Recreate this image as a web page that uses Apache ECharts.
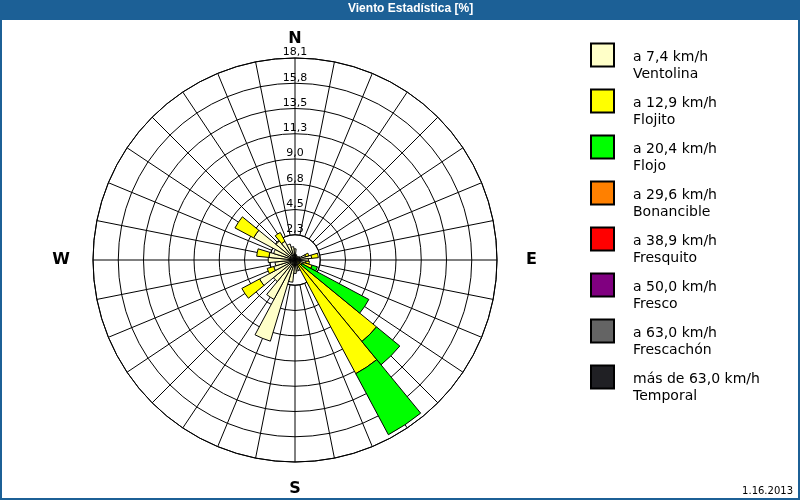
<!DOCTYPE html>
<html><head><meta charset="utf-8">
<script src="https://cdn.jsdelivr.net/npm/echarts@6/dist/echarts.min.js"></script>
<style>html,body{margin:0;padding:0;background:#fff}#c{width:800px;height:500px}</style>
</head><body><div id="c"></div>
<script>
// 32 wind directions, clockwise from North
const directions = ['N','NbE','NNE','NEbN','NE','NEbE','ENE','EbN','E','EbS','ESE','SEbE','SE','SEbS','SSE','SbE',
                    'S','SbW','SSW','SWbS','SW','SWbW','WSW','WbS','W','WbN','WNW','NWbW','NW','NWbN','NNW','NbW'];
// percentages per speed class
const ventolina  = [1.0,0.5,0.4,0.4,0.4,0.5,1.0,1.5,1.2,1.0,0.8,0.3,0.5,0.5,1.0,1.0,1.2,2.0,7.6,4.0,2.5,3.6,2.0,1.8,2.4,2.35,2.0,4.2,2.2,1.9,1.5,1.2];
const flojito    = [0,0,0,0,0,0,0.3,0.6,0,0.3,0.8,0.4,8.95,11.05,0,0,0,0,0,0,0,1.8,0.6,0,0,1.1,0,1.9,0,0.9,0,0];
const flojo      = [0,0,0,0,0,0,0,0,0,0,0.5,6.8,2.7,6.2,0,0,0,0,0,0,0,0,0,0,0,0,0,0,0,0,0,0];
const bonancible = [0,0,0,0,0,0,0,0,0,0,0,0,0,0,0,0,0,0,0,0,0,0,0,0,0,0,0,0,0,0,0,0];
const fresquito  = [0,0,0,0,0,0,0,0,0,0,0,0,0,0,0,0,0,0,0,0,0,0,0,0,0,0,0,0,0,0,0,0];
const fresco     = [0,0,0,0,0,0,0,0,0,0,0,0,0,0,0,0,0,0,0,0,0,0,0,0,0,0,0,0,0,0,0,0];
const frescachon = [0,0,0,0,0,0,0,0,0,0,0,0,0,0,0,0,0,0,0,0,0,0,0,0,0,0,0,0,0,0,0,0];
const temporal   = [0,0,0,0,0,0,0,0,0,0,0,0,0,0,0,0,0,0,0,0,0,0,0,0,0,0,0,0,0,0,0,0];
const seriesNames = ['a 7,4 km/h\nVentolina','a 12,9 km/h\nFlojito','a 20,4 km/h\nFlojo','a 29,6 km/h\nBonancible',
                     'a 38,9 km/h\nFresquito','a 50,0 km/h\nFresco','a 63,0 km/h\nFrescachón','más de 63,0 km/h\nTemporal'];
const ringLabels = ['2,3','4,5','6,8','9,0','11,3','13,5','15,8','18,1'];
const compassAngles = [0,90,180,270];
const compassNames = ['N','E','S','W'];
const compassStyles = ['n','e','s','w'];
const radiusMax = 18.1;

const seriesValues = [ventolina,flojito,flojo,bonancible,fresquito,fresco,frescachon,temporal];
const colors = ['#ffffc8','#ffff00','#00ff00','#ff8000','#ff0000','#800080','#646464','#202024'];

const compassFont = {color:'#000', fontSize:16, fontWeight:'bold', fontFamily:'DejaVu Sans'};
const legendFont = {fontFamily:'DejaVu Sans', fontSize:14, lineHeight:17, color:'#000'};

const chart = echarts.init(document.getElementById('c'), null, {renderer:'canvas'});
const option = {
  backgroundColor:'#ffffff',
  animation:false,
  title:[
    {text:'Viento Estadística [%]', left:348, top:3, padding:0,
     textStyle:{color:'#ffffff', fontSize:12, fontWeight:'bold', fontFamily:'Liberation Sans'}},
    {text:'1.16.2013', right:7, bottom:4, padding:0,
     textStyle:{color:'#000', fontSize:10, fontWeight:'normal', fontFamily:'DejaVu Sans'}}
  ],
  graphic:[
    {type:'rect', z:-10, shape:{x:0,y:0,width:800,height:20}, style:{fill:'#1c6096'}},
    {type:'rect', z:-10, shape:{x:1,y:1,width:798,height:498}, style:{fill:null, stroke:'#1c6096', lineWidth:2}}
  ],
  polar:[
    {center:[295,260], radius:[25.25,202]},
    {center:[295,260], radius:[0,202]}
  ],
  angleAxis:[
    {polarIndex:0, type:'value', min:0, max:360, interval:11.25, startAngle:90, clockwise:true,
     axisLine:{show:true, lineStyle:{color:'#000', width:1}},
     axisTick:{show:false},
     splitLine:{show:true, lineStyle:{color:'#000', width:1}},
     axisLabel:{show:true, margin:11,
       rich:{
         n:Object.assign({}, compassFont),
         e:Object.assign({padding:[0,0,0,18]}, compassFont),
         s:Object.assign({padding:[8,0,0,0]}, compassFont),
         w:Object.assign({padding:[0,12,0,0]}, compassFont)
       },
       formatter:function(v){const i=compassAngles.indexOf(v); return i>=0?('{'+compassStyles[i]+'|'+compassNames[i]+'}'):'';}}},
    {polarIndex:1, type:'category', data:directions, startAngle:95.625, clockwise:true, boundaryGap:true,
     axisLine:{show:false}, axisTick:{show:false}, axisLabel:{show:false}, splitLine:{show:false}}
  ],
  radiusAxis:[
    {polarIndex:0, type:'value', min:1, max:8, interval:1,
     axisLine:{show:false}, axisTick:{show:false},
     splitLine:{show:true, lineStyle:{color:'#000', width:1}},
     axisLabel:{show:true, margin:0, align:'center', verticalAlign:'bottom', color:'#000', fontSize:11, fontFamily:'DejaVu Sans',
       formatter:function(v){return ringLabels[Math.round(v)-1]||'';}}},
    {polarIndex:1, type:'value', min:0, max:radiusMax,
     axisLine:{show:false}, axisTick:{show:false}, splitLine:{show:false}, axisLabel:{show:false}}
  ],
  legend:{orient:'vertical', left:590, top:27, padding:0, itemWidth:23, itemHeight:23, itemGap:-10,
    icon:'rect', selectedMode:false,
    textStyle:Object.assign({padding:[0,0,0,14],
      rich:{sp:{fontSize:14, lineHeight:22}, t:Object.assign({}, legendFont)}}, legendFont),
    formatter:function(name){const p=name.split('\n'); return '{sp| }\n{t|'+p[0]+'}\n{t|'+p[1]+'}';},
    data:seriesNames},
  series: seriesNames.map(function(name,i){
    return {type:'bar', coordinateSystem:'polar', polarIndex:1, stack:'wind', name:name,
      barCategoryGap:'0%', z:3,
      itemStyle:{color:colors[i], borderColor:'#000', borderWidth:1},
      data: seriesValues[i].map(function(v){return v===0?null:v;})};
  })
};
chart.setOption(option);
</script></body></html>
